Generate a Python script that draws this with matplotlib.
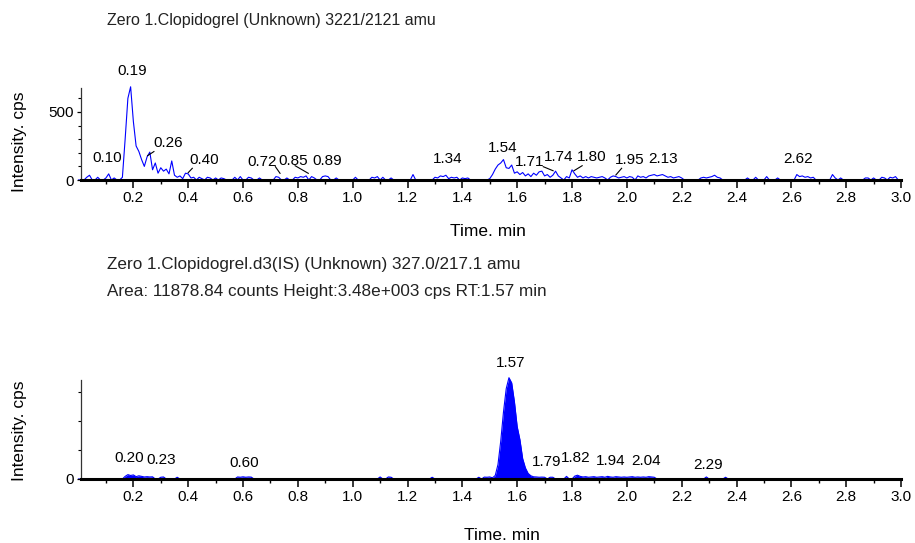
import numpy as np
import matplotlib
matplotlib.use("Agg")
import matplotlib.pyplot as plt
from matplotlib.ticker import FixedLocator

plt.rcParams['font.family'] = ['Liberation Sans', 'DejaVu Sans']

# sampling of both XIC traces (min)
t_start = 0.0
t_step = 0.01

# Clopidogrel 3221/2121, cps, one row per 0.1 min
clop_cps = [
    0, 0, 0, 20, 35, 0, 0, 20, 0, 0,
    15, 45, 0, 15, 0, 0, 20, 300, 600, 685,
    430, 250, 210, 150, 100, 170, 205, 75, 125, 50,
    90, 65, 80, 45, 140, 35, 20, 30, 10, 50,
    45, 15, 20, 0, 20, 10, 0, 20, 15, 0,
    15, 0, 15, 10, 0, 0, 0, 20, 0, 25,
    0, 0, 20, 15, 0, 0, 15, 0, 0, 0,
    0, 0, 25, 20, 0, 0, 15, 0, 0, 20,
    15, 25, 20, 30, 0, 25, 15, 0, 0, 25,
    30, 25, 0, 0, 15, 0, 0, 0, 0, 0,
    0, 20, 0, 0, 0, 0, 0, 20, 15, 25,
    0, 20, 0, 0, 15, 0, 0, 0, 0, 0,
    0, 0, 40, 0, 0, 0, 0, 0, 0, 0,
    20, 15, 30, 25, 35, 10, 20, 15, 20, 0,
    15, 10, 15, 0, 0, 0, 0, 0, 0, 0,
    10, 40, 80, 110, 125, 150, 90, 85, 110, 50,
    60, 40, 55, 30, 45, 25, 50, 35, 60, 65,
    30, 40, 20, 35, 65, 30, 15, 0, 25, 15,
    75, 45, 20, 30, 15, 25, 15, 25, 20, 15,
    20, 25, 15, 0, 20, 30, 25, 15, 20, 25,
    15, 25, 20, 0, 30, 20, 25, 15, 30, 35,
    40, 30, 35, 40, 30, 20, 25, 15, 20, 25,
    15, 0, 0, 0, 0, 0, 0, 15, 20, 15,
    20, 25, 35, 20, 15, 0, 0, 0, 0, 0,
    0, 0, 0, 0, 15, 0, 0, 20, 0, 0,
    0, 25, 0, 0, 0, 15, 0, 0, 0, 0,
    0, 0, 40, 25, 30, 20, 25, 15, 20, 0,
    0, 0, 0, 0, 0, 40, 15, 0, 15, 0,
    0, 0, 0, 0, 0, 0, 0, 15, 15, 0,
    15, 0, 0, 20, 15, 0, 20, 15, 25, 0,
]

# Clopidogrel-d3 (IS) 327.0/217.1, cps
is_cps = [
    0, 0, 0, 0, 0, 0, 0, 0, 0, 0,
    0, 0, 0, 0, 0, 0, 0, 90, 150, 120,
    140, 80, 110, 90, 70, 80, 70, 75, 0, 0,
    60, 70, 0, 0, 0, 0, 60, 0, 0, 0,
    0, 0, 0, 0, 0, 0, 0, 0, 0, 0,
    0, 0, 0, 0, 0, 0, 0, 0, 70, 60,
    75, 60, 70, 65, 0, 0, 0, 0, 0, 0,
    0, 0, 0, 0, 0, 0, 0, 0, 0, 0,
    0, 0, 0, 0, 0, 0, 0, 0, 0, 0,
    0, 0, 0, 0, 0, 0, 0, 0, 0, 0,
    0, 0, 0, 0, 0, 0, 0, 0, 0, 0,
    70, 0, 0, 70, 60, 0, 0, 0, 0, 0,
    0, 0, 0, 0, 0, 0, 0, 0, 0, 60,
    0, 0, 0, 0, 0, 0, 0, 0, 0, 0,
    0, 0, 0, 0, 0, 0, 60, 0, 65, 60,
    70, 40, 120, 500, 1300, 2300, 3100, 3480, 3300, 2650,
    1800, 1350, 700, 380, 190, 110, 75, 70, 60, 65,
    60, 0, 60, 60, 0, 0, 0, 0, 90, 0,
    0, 100, 130, 90, 70, 80, 60, 70, 80, 60,
    70, 80, 60, 90, 70, 60, 80, 70, 60, 70,
    60, 70, 80, 60, 70, 60, 70, 60, 80, 70,
    60, 0, 0, 0, 0, 0, 0, 0, 0, 0,
    0, 0, 0, 0, 0, 0, 0, 0, 0, 70,
    0, 0, 0, 0, 0, 0, 60, 0, 0, 0,
    0, 0, 0, 0, 0, 0, 0, 0, 0, 0,
    0, 0, 0, 0, 0, 0, 0, 0, 0, 0,
    0, 0, 0, 0, 0, 0, 0, 0, 0, 0,
    0, 0, 0, 0, 0, 0, 0, 0, 0, 0,
    0, 0, 0, 0, 0, 0, 0, 0, 0, 0,
    0, 0, 0, 0, 0, 0, 0, 0, 0, 0,
]

# peak labels (retention times shown by the software)
clop_peaks = ["0.10", "0.19", "0.26", "0.40", "0.72", "0.85", "0.89", "1.34",
              "1.54", "1.71", "1.74", "1.80", "1.95", "2.13", "2.62"]
is_peaks = ["0.20", "0.23", "0.60", "1.57", "1.79", "1.82", "1.94", "2.04", "2.29"]

# where the labels sit (x in min, y in cps)
clop_lab_pos = [(0.103, 162), (0.194, 801), (0.327, 270), (0.460, 147), (0.668, 130),
                (0.783, 142), (0.906, 140), (1.348, 154), (1.546, 233), (1.644, 134),
                (1.751, 171), (1.872, 171), (2.012, 147), (2.133, 152), (2.623, 152)]
is_lab_pos = [(0.183, 711), (0.300, 652), (0.604, 539), (1.575, 3973), (1.708, 594),
              (1.815, 711), (1.941, 618), (2.069, 618), (2.296, 481)]
# leader lines for the displaced labels
clop_leaders = [((0.275, 209), (0.252, 179)), ((0.400, 54), (0.415, 86)),
                ((0.718, 98), (0.735, 49)), ((0.790, 105), (0.838, 49)),
                ((1.695, 98), (1.731, 68)), ((1.837, 105), (1.807, 68)),
                ((1.981, 86), (1.960, 37))]

t = t_start + t_step * np.arange(len(clop_cps))
W, H = 915, 543
fig = plt.figure(figsize=(W / 100, H / 100), dpi=100)

x_lo, x_hi = 0.009, 3.0
ax_l, ax_r = 81 / W, 901 / W
lab_fs = 11


def style_axis(ax, ymax, ymajor, yminor):
    ax.set_xlim(x_lo, x_hi)
    ax.set_ylim(0, ymax)
    for s in ('top', 'right'):
        ax.spines[s].set_visible(False)
    ax.spines['bottom'].set_linewidth(2.2)
    ax.spines['bottom'].set_color('black')
    ax.spines['left'].set_linewidth(0.9)
    ax.spines['left'].set_color('#333333')
    ax.xaxis.set_major_locator(FixedLocator(np.arange(0.2, 3.01, 0.2)))
    ax.xaxis.set_minor_locator(FixedLocator(np.arange(0.1, 3.01, 0.2)))
    ax.set_xticklabels(['%.1f' % v for v in np.arange(0.2, 3.01, 0.2)])
    ax.yaxis.set_major_locator(FixedLocator(ymajor))
    ax.yaxis.set_minor_locator(FixedLocator(yminor))
    ax.tick_params(axis='x', which='major', length=6, width=1.1, pad=2, labelsize=11)
    ax.tick_params(axis='x', which='minor', length=3, width=1.0)
    ax.tick_params(axis='y', which='major', length=3, width=0.9, pad=2, labelsize=11)
    ax.tick_params(axis='y', which='minor', length=2, width=0.8)


# top: analyte
ax1 = fig.add_axes([ax_l, 1 - 180 / H, ax_r - ax_l, 92 / H])
ax1.plot(t, clop_cps, color='#0000ff', lw=0.8, zorder=1, clip_on=False)
style_axis(ax1, 676, [0, 500], np.arange(100, 700, 100))
for lab, (lx, ly) in zip(clop_peaks, clop_lab_pos):
    ax1.text(lx, ly, lab, ha='center', va='center', fontsize=lab_fs)
for (p0, p1) in clop_leaders:
    ax1.plot([p0[0], p1[0]], [p0[1], p1[1]], color='black', lw=0.8, clip_on=False)

# bottom: internal standard
ax2 = fig.add_axes([ax_l, 1 - 479 / H, ax_r - ax_l, 99 / H])
ax2.fill_between(t, 0, is_cps, color='#0000ff', lw=0, zorder=1, clip_on=False)
ax2.plot(t, is_cps, color='#0000ff', lw=0.8, zorder=1, clip_on=False)
style_axis(ax2, 3400, [0], [1000, 2000, 3000])
for lab, (lx, ly) in zip(is_peaks, is_lab_pos):
    ax2.text(lx, ly, lab, ha='center', va='center', fontsize=lab_fs)

# header texts and axis titles
fig.text(106.7 / W, 1 - 20 / H, "Zero 1.Clopidogrel (Unknown) 3221/2121 amu",
         ha='left', va='center', fontsize=11.5, color='#222222')
fig.text(106.7 / W, 1 - 265 / H, "Zero 1.Clopidogrel.d3(IS) (Unknown) 327.0/217.1 amu",
         ha='left', va='center', fontsize=12.3, color='#222222')
fig.text(106.7 / W, 1 - 291.7 / H, "Area: 11878.84 counts Height:3.48e+003 cps RT:1.57 min",
         ha='left', va='center', fontsize=12.3, color='#222222')
fig.text(487.5 / W, 1 - 231.7 / H, "Time. min", ha='center', va='center', fontsize=12.5)
fig.text(501.7 / W, 1 - 535 / H, "Time. min", ha='center', va='center', fontsize=12.5)
fig.text(20 / W, 1 - 142 / H, "Intensity. cps", ha='center', va='center',
         rotation=90, fontsize=12.5)
fig.text(20 / W, 1 - 431 / H, "Intensity. cps", ha='center', va='center',
         rotation=90, fontsize=12.5)

fig.savefig("out.png", dpi=100)
